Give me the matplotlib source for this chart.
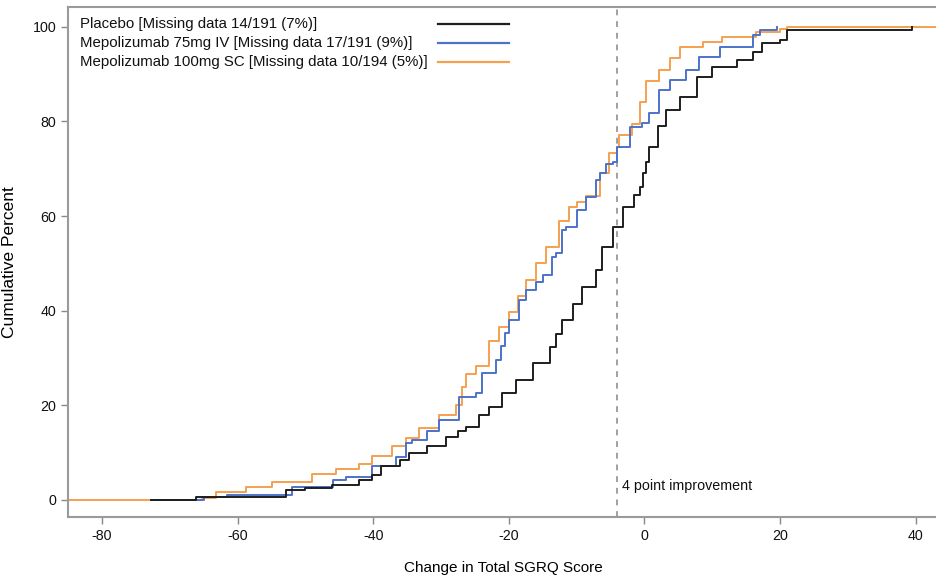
import matplotlib.pyplot as plt

plt.rcParams['font.family'] = ['Liberation Sans', 'DejaVu Sans']
plt.rcParams['axes.unicode_minus'] = False

# cumulative percent step points
PlaceboX = [-72.8, -66.2, -52.9, -50, -46.1, -42.1, -40.2, -38.8, -36, -34.7, -32, -29.3, -27.5, -26.3,
            -24.4, -22.9, -21, -18.9, -16.5, -14, -13, -12.1, -10.5, -9.2, -7.1, -6.2, -4.7, -3.2, -1.5,
            -0.7, -0.2, 0.2, 0.7, 2, 3.2, 5.2, 7.7, 10, 13.6, 16, 17.4, 20, 21, 39.4]
PlaceboY = [0, 0.6, 2.1, 2.5, 3.2, 4.2, 5.3, 7.2, 8.5, 9.9, 11.5, 13.3, 14.5, 15.4,
            18, 19.7, 22.5, 25.4, 29, 32.3, 35, 38, 41.5, 45, 48.6, 53.5, 57.7, 62, 64.5,
            66.2, 69, 71.5, 74.6, 79, 82.5, 85.2, 89.4, 91.5, 93, 94.7, 96.5, 97.2, 99.4, 100]

Iv75X = [-72.8, -65, -61.5, -52, -46, -44, -40.2, -36.6, -35.2, -34.3, -32, -30.3, -27.3, -24.8,
         -23.9, -21.9, -21.2, -20.6, -19.9, -18.5, -17.4, -16, -15, -13.6, -13, -12.1, -11.5, -10,
         -8.6, -7.1, -6.6, -5.6, -4.7, -4.1, -2.2, -0.3, 0.7, 2.2, 3.7, 6.2, 8.1, 11.1, 16, 17, 19.5]
Iv75Y = [0, 0.6, 1.1, 2.7, 4.2, 4.9, 7.2, 9.1, 12.0, 12.7, 14.5, 16.9, 21.8, 22.6,
         26.8, 29.6, 32.5, 35.2, 38, 42.3, 44.4, 46, 47.5, 51.4, 52.2, 57, 57.7, 61.3,
         64, 67.7, 69.1, 71.0, 71.5, 74.6, 78.9, 79.7, 81.8, 86.7, 88.8, 90.9, 93.7, 95.8, 98.3, 99.4, 100]

Sc100X = [-85, -65.3, -63.2, -58.8, -54.9, -49, -45.5, -42.1, -40.2, -37.2, -35.2, -33.2, -30.3,
          -27.8, -26.9, -26.3, -24.8, -22.9, -21.5, -19.9, -18.7, -17.4, -16, -14.5, -12.6, -11.1,
          -10, -8.6, -6.6, -5.2, -4.1, -3.7, -1.8, -0.7, 0.3, 2.2, 3.7, 5.2, 8.6, 11.5, 16.5, 20, 21, 45]
Sc100Y = [0, 0.5, 1.6, 2.7, 3.8, 5.4, 6.5, 7.6, 9.2, 11.4, 13.0, 15.2, 18.0,
          20.1, 23.9, 26.6, 28.3, 33.7, 36.5, 39.7, 43.0, 46.5, 50.0, 53.5, 59.0, 62.0,
          63.0, 64.2, 69.0, 73.4, 74.5, 77.2, 79.5, 84.2, 88.6, 90.8, 93.5, 95.7, 96.7, 97.8, 98.9, 99.5, 100, 100]

Labels = ['Placebo [Missing data 14/191 (7%)]',
          'Mepolizumab 75mg IV [Missing data 17/191 (9%)]',
          'Mepolizumab 100mg SC [Missing data 10/194 (5%)]']
Colors = ['#1e1e1e', '#4c72c9', '#f5a050']

fig = plt.figure(figsize=(9.37, 5.77), dpi=100)
ax = fig.add_axes([0.0726, 0.104, 0.93, 0.884])

ax.step(Sc100X, Sc100Y, where='post', color=Colors[2], lw=1.4, zorder=2)
ax.step(Iv75X, Iv75Y, where='post', color=Colors[1], lw=1.4, zorder=2.1)
ax.step(PlaceboX, PlaceboY, where='post', color=Colors[0], lw=1.4, zorder=2.2)

ax.axvline(-4, color='#a0a0a0', lw=1.4, ls=(0, (3, 3)))
ax.text(-3.3, 3, '4 point improvement', fontsize=10.3, va='center', ha='left', color='#111111')

# legend drawn by hand: text left aligned, sample lines to the right
for i in range(3):
    yy = 1 - (17 + 18.8 * i) / 510
    ax.text(0.0138, yy, Labels[i], transform=ax.transAxes, fontsize=10.8,
            va='center', ha='left', color='#111111')
    ax.plot([0.4245, 0.5055], [yy, yy], transform=ax.transAxes, color=Colors[i], lw=1.6)

ax.set_xlim(-85, 43.5)
ax.set_ylim(-3.6, 104.2)
ax.set_xticks([-80, -60, -40, -20, 0, 20, 40])
ax.set_yticks([0, 20, 40, 60, 80, 100])
ax.tick_params(labelsize=10.3, color='#888888', length=5, width=1, labelcolor='#111111')
for s in ax.spines.values():
    s.set_color('#9a9a9a')
    s.set_linewidth(1.5)

ax.set_xlabel('Change in Total SGRQ Score', fontsize=11, labelpad=13)
ax.set_ylabel('Cumulative Percent', fontsize=12.5, labelpad=11)

fig.savefig('out.png', dpi=100)
